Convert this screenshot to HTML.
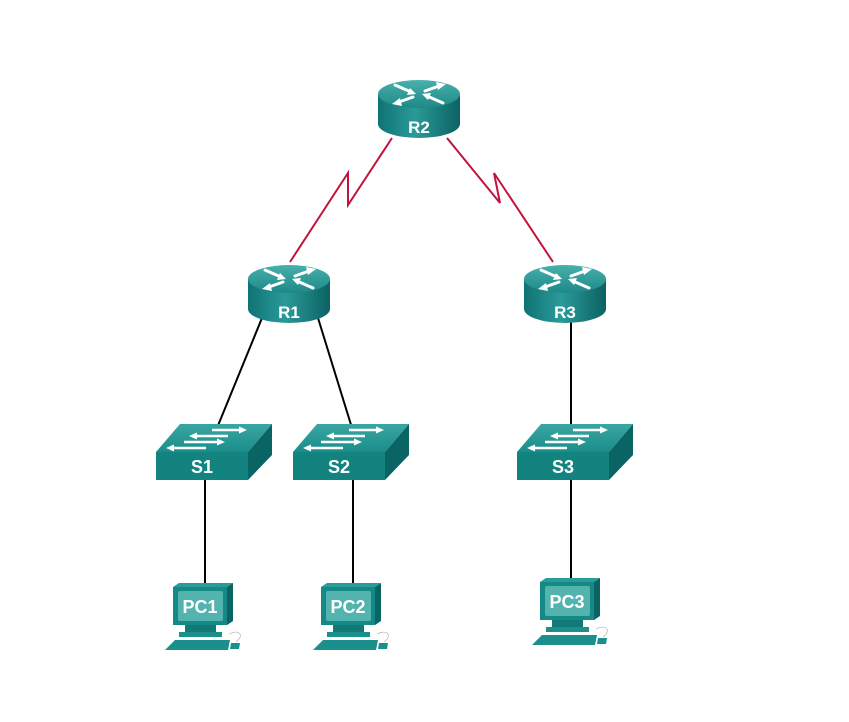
<!DOCTYPE html>
<html><head><meta charset="utf-8"><style>
html,body{margin:0;padding:0;background:#fff;}
svg{display:block;}
text{font-family:"Liberation Sans",Arial,sans-serif;font-weight:bold;fill:#fff;text-anchor:middle;}
</style></head><body>
<svg width="849" height="722" viewBox="0 0 849 722" xmlns="http://www.w3.org/2000/svg">
<defs>
<linearGradient id="rbody" x1="0" x2="1" y1="0" y2="0">
<stop offset="0" stop-color="#0f7373"/><stop offset="0.45" stop-color="#2a9a98"/><stop offset="1" stop-color="#0c6262"/>
</linearGradient>
<linearGradient id="rtop" x1="0" x2="0" y1="0" y2="1">
<stop offset="0" stop-color="#48b0ad"/><stop offset="1" stop-color="#1d8986"/>
</linearGradient>
<linearGradient id="stop" x1="0" x2="0" y1="0" y2="1">
<stop offset="0" stop-color="#3aa6a3"/><stop offset="1" stop-color="#1a8d8a"/>
</linearGradient>
<g id="router">
<path d="M-41,0 L-41,30 A41,14 0 0 0 41,30 L41,0 Z" fill="url(#rbody)"/>
<ellipse cx="0" cy="0" rx="41" ry="14" fill="url(#rtop)"/>
<g stroke="#fff" stroke-width="3" fill="#fff" stroke-linecap="round">
<line x1="-24" y1="-9" x2="-8" y2="-2"/><polygon points="-3,0 -12,1 -9,-6" stroke="none"/>
<line x1="24" y1="9" x2="8" y2="2"/><polygon points="3,0 12,-1 9,6" stroke="none"/>
<line x1="6" y1="-3" x2="20" y2="-8"/><polygon points="27,-10 17,-12 19,-4" stroke="none"/>
<line x1="-6" y1="3" x2="-20" y2="8"/><polygon points="-27,10 -17,12 -19,4" stroke="none"/>
</g>
</g>
<g id="switch">
<polygon points="0,28 24,0 116,0 92,28" fill="url(#stop)"/>
<polygon points="92,28 116,0 116,31 92,56" fill="#0b6464"/>
<rect x="0" y="28" width="92" height="28" fill="#12837f"/>
<g stroke="#fff" stroke-width="2.5" fill="#fff">
<line x1="56" y1="6" x2="84" y2="6"/><polygon points="91,6 83,2.5 83,9.5" stroke="none"/>
<line x1="40" y1="12" x2="72" y2="12"/><polygon points="33,12 41,8.5 41,15.5" stroke="none"/>
<line x1="28" y1="18" x2="62" y2="18"/><polygon points="69,18 61,14.5 61,21.5" stroke="none"/>
<line x1="18" y1="24" x2="50" y2="24"/><polygon points="10,24 18,20.5 18,27.5" stroke="none"/>
</g>
</g>
<g id="pc">
<polygon points="0,4 6,0 60,0 54,4" fill="#2a9c98"/>
<polygon points="54,4 60,0 60,38 54,42" fill="#0b6464"/>
<rect x="0" y="4" width="54" height="38" fill="#158985"/>
<rect x="5" y="8" width="45" height="30" fill="#52b3af" rx="2"/>
<rect x="12" y="42" width="31" height="7" fill="#117a77"/>
<rect x="6" y="49" width="43" height="5" fill="#1a8f8b"/>
<polygon points="2,57 57,57 55,67 -8,67" fill="#1a8f8b"/>
<polygon points="58,60 67,60 66,66 57,66" fill="#1a8f8b"/>
<path d="M56,51 C66,46 72,52 63,59" fill="none" stroke="#bbb" stroke-width="0.8"/>
</g>
</defs>

<g stroke="#c0143c" stroke-width="2" fill="none">
<polyline points="290,262 348,173 348,205 392,138"/>
<polyline points="447,138 500,203 494,173 553,262"/>
</g>
<g stroke="#000" stroke-width="2">
<line x1="262" y1="318" x2="217" y2="428"/>
<line x1="318" y1="318" x2="352" y2="428"/>
<line x1="571" y1="320" x2="571" y2="428"/>
<line x1="205" y1="480" x2="205" y2="587"/>
<line x1="353" y1="480" x2="353" y2="587"/>
<line x1="571" y1="480" x2="571" y2="582"/>
</g>

<use href="#router" x="419" y="94"/>
<text x="419" y="133" font-size="17">R2</text>
<use href="#router" x="289" y="279"/>
<text x="289" y="318" font-size="17">R1</text>
<use href="#router" x="565" y="279"/>
<text x="565" y="318" font-size="17">R3</text>

<use href="#switch" x="156" y="424"/>
<text x="202" y="473" font-size="18">S1</text>
<use href="#switch" x="293" y="424"/>
<text x="339" y="473" font-size="18">S2</text>
<use href="#switch" x="517" y="424"/>
<text x="563" y="473" font-size="18">S3</text>

<use href="#pc" x="173" y="583"/>
<text x="200" y="613" font-size="18">PC1</text>
<use href="#pc" x="321" y="583"/>
<text x="348" y="613" font-size="18">PC2</text>
<use href="#pc" x="540" y="578"/>
<text x="567" y="608" font-size="18">PC3</text>
</svg>
</body></html>
